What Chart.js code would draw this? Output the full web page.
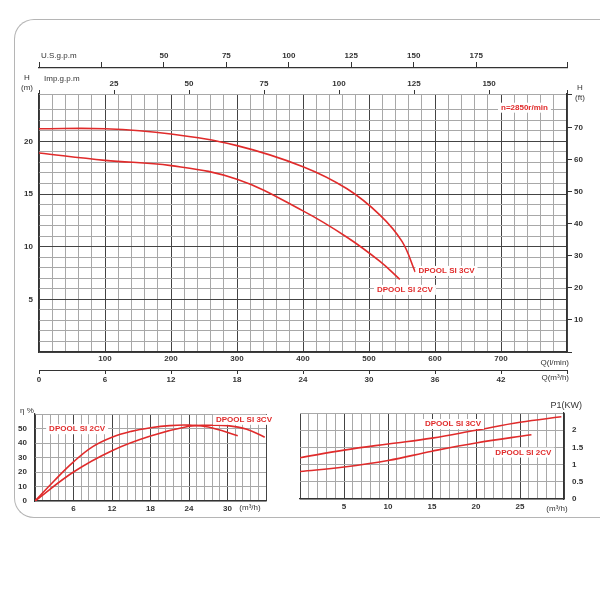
<!DOCTYPE html>
<html>
<head>
<meta charset="utf-8">
<script src="https://cdn.jsdelivr.net/npm/chart.js@4/dist/chart.umd.min.js"></script>
<style>
  body { margin: 0; background: #fff; width: 600px; height: 600px; position: relative; overflow: hidden; }
  canvas { position: absolute; }
  #frame { position: absolute; left: 14px; top: 19px; width: 600px; height: 497px;
           border: 1.5px solid #b5b5b5; border-right: none; border-radius: 20px 0 0 20px; }
</style>
</head>
<body>
<div id="frame"></div>
<canvas id="hqChart" style="left:0;top:0;width:600px;height:395px"></canvas>
<canvas id="effChart" style="left:0;top:395px;width:290px;height:125px"></canvas>
<canvas id="powChart" style="left:290px;top:395px;width:310px;height:125px"></canvas>
<script>
// H-Q 곡선 (Q: m3/h, H: m)
const hq3Q = [0, 6, 12, 18, 24, 28, 31, 33, 34.2];
const hq3H = [21.2, 21.2, 20.7, 19.6, 17.6, 15.5, 13.0, 10.5, 7.6];
const hq2Q = [0, 6, 12, 18, 24, 28, 31, 32.8];
const hq2H = [18.9, 18.2, 17.7, 16.4, 13.4, 10.9, 8.6, 6.9];

// 효율 곡선 (%)
const eff2Q = [0, 3, 6, 9, 12, 15, 18, 21, 24, 27, 31.6];
const eff2E = [0, 14, 27, 37.5, 44, 48, 50.5, 52, 52.3, 51, 45];
const eff3Q = [0, 6, 12, 18, 24, 27, 30, 33, 35.8];
const eff3E = [0, 20, 34.7, 44.8, 51.5, 52.2, 52, 49.5, 44];

// 소비전력 곡선 (kW)
const pow3Q = [0, 5, 10, 15, 20, 25, 29.7];
const pow3P = [1.2, 1.42, 1.6, 1.77, 2.0, 2.23, 2.39];
const pow2Q = [0, 5, 10, 15, 20, 26.3];
const pow2P = [0.80, 0.93, 1.12, 1.39, 1.63, 1.87];

const lpmTicks = [100, 200, 300, 400, 500, 600, 700];
const m3hTicks = [0, 6, 12, 18, 24, 30, 36, 42];
const impTicks = [25, 50, 75, 100, 125, 150, 175];
const usTicks = [50, 75, 100, 125, 150, 175, 200];
const ftTicks = [10, 20, 30, 40, 50, 60, 70];
const mTicks = [5, 10, 15, 20];

const RED = '#e02b2b';
const FONT = { family: 'Liberation Sans, Arial, sans-serif', size: 8, weight: 'bold' };
Chart.defaults.font = FONT;
Chart.defaults.color = '#333';
Chart.defaults.animation = false;

const near = (v, step) => Math.abs(v / step - Math.round(v / step)) < 1e-6;
const pts = (xs, ys, k = 1) => xs.map((x, i) => ({ x: x * k, y: ys[i] }));
const fixW = w => s => { s.width = w; };
const fixH = h => s => { s.height = h; };

function lineSet(data, xAxis) {
    return { data, xAxisID: xAxis || 'x', borderColor: RED, borderWidth: 1.6,
             pointRadius: 0, tension: 0.4, fill: false };
}

// 라벨 플러그인: 데이터 좌표에 붉은 텍스트(흰 배경)
function labelPlugin(labels, texts) {
    return {
        id: 'labels',
        afterDatasetsDraw(chart) {
            const c = chart.ctx;
            c.save();
            c.font = 'bold 8px Liberation Sans, Arial, sans-serif';
            c.textBaseline = 'middle';
            labels.forEach(l => {
                const x = chart.scales[l.xs || 'x'].getPixelForValue(l.x);
                const y = chart.scales.y.getPixelForValue(l.y);
                const w = c.measureText(l.t).width;
                c.fillStyle = '#fff';
                c.fillRect(x - 3, y - 5, w + 6, 10);
                c.fillStyle = RED;
                c.fillText(l.t, x, y);
            });
            c.fillStyle = '#333';
            (texts || []).forEach(t => {
                c.font = (t.size || 8) + 'px Liberation Sans, Arial, sans-serif';
                c.textAlign = t.align || 'left';
                c.fillText(t.t, t.x, t.y);
            });
            c.restore();
        }
    };
}

function gridColor(major) {
    return ctx => (ctx.tick && major(ctx.tick.value)) ? '#444' : '#a8a8a8';
}

// 메인 H-Q 차트
new Chart(document.getElementById('hqChart'), {
    type: 'line',
    data: { datasets: [
        lineSet(pts(hq3Q, hq3H, 1000 / 60)),
        lineSet(pts(hq2Q, hq2H, 1000 / 60))
    ] },
    options: {
        responsive: false, maintainAspectRatio: false,
        layout: { padding: 0 },
        plugins: { legend: { display: false }, tooltip: { enabled: false } },
        scales: {
            x: {
                type: 'linear', position: 'bottom', min: 0, max: 800,
                ticks: { stepSize: 20, autoSkip: false, maxRotation: 0, padding: 2,
                         callback: v => lpmTicks.includes(v) ? v : '' },
                grid: { color: gridColor(v => near(v, 100)), tickLength: 0 },
                border: { color: '#333', width: 1.2 },
                afterFit: fixH(18)
            },
            xm3: {
                type: 'linear', position: 'bottom', min: 0, max: 48,
                ticks: { stepSize: 6, autoSkip: false, maxRotation: 0, padding: 1,
                         callback: v => m3hTicks.includes(v) ? v : '' },
                grid: { drawOnChartArea: false, tickLength: 4, color: '#333' },
                border: { color: '#333' },
                afterFit: fixH(25)
            },
            ximp: {
                type: 'linear', position: 'top', weight: 1, min: 0, max: 48 * 1000 / 60 / 4.546,
                ticks: { stepSize: 25, autoSkip: false, maxRotation: 0, padding: 1,
                         callback: v => impTicks.includes(v) ? v : '' },
                grid: { drawOnChartArea: false, tickLength: 4, color: '#333' },
                border: { display: false },
                afterFit: fixH(26)
            },
            xus: {
                type: 'linear', position: 'top', weight: 2, min: 0, max: 48 * 1000 / 60 / 3.785,
                ticks: { stepSize: 25, autoSkip: false, maxRotation: 0, padding: 1,
                         callback: v => usTicks.includes(v) ? v : '' },
                grid: { drawOnChartArea: false, tickLength: 6, color: '#333' },
                border: { color: '#333', width: 1.2 },
                afterFit: fixH(68)
            },
            y: {
                type: 'linear', position: 'left', min: 0, max: 24.5,
                ticks: { stepSize: 1, autoSkip: false, padding: 6,
                         callback: v => mTicks.includes(v) ? v : '' },
                grid: { color: gridColor(v => near(v, 5)), tickLength: 0 },
                border: { color: '#333', width: 1.2 },
                afterFit: fixW(39)
            },
            yft: {
                type: 'linear', position: 'right', min: 0, max: 24.5 * 3.28084,
                ticks: { stepSize: 10, autoSkip: false, padding: 2,
                         callback: v => ftTicks.includes(v) ? v : '' },
                grid: { drawOnChartArea: false, tickLength: 5, color: '#333' },
                border: { color: '#333', width: 1.2 },
                afterFit: fixW(33)
            }
        }
    },
    plugins: [labelPlugin(
        [{ t: 'DPOOL SI 3CV', x: 575, y: 7.7 },
         { t: 'DPOOL SI 2CV', x: 512, y: 5.9 },
         { t: 'n=2850r/min', x: 700, y: 23.2 }],
        [{ t: 'U.S.g.p.m', x: 41, y: 56 },
         { t: 'Imp.g.p.m', x: 44, y: 79 },
         { t: 'H', x: 27, y: 78, align: 'center' },
         { t: '(m)', x: 27, y: 88, align: 'center' },
         { t: 'H', x: 580, y: 88, align: 'center' },
         { t: '(ft)', x: 580, y: 98, align: 'center' },
         { t: 'Q(l/min)', x: 569, y: 363, align: 'right' },
         { t: 'Q(m³/h)', x: 569, y: 378, align: 'right' }]
    )]
});

// 효율 차트
new Chart(document.getElementById('effChart'), {
    type: 'line',
    data: { datasets: [lineSet(pts(eff2Q, eff2E)), lineSet(pts(eff3Q, eff3E))] },
    options: {
        responsive: false, maintainAspectRatio: false,
        layout: { padding: { left: 0, right: 24, top: 19, bottom: 0 } },
        plugins: { legend: { display: false }, tooltip: { enabled: false } },
        scales: {
            x: {
                type: 'linear', min: 0, max: 36,
                ticks: { stepSize: 1.2, autoSkip: false, maxRotation: 0, padding: 3,
                         callback: v => (near(v, 6) && v > 0 && v < 36) ? Math.round(v) : '' },
                grid: { color: gridColor(v => near(v, 6)), tickLength: 0 },
                border: { color: '#333', width: 1.2 },
                afterFit: fixH(19)
            },
            y: {
                type: 'linear', min: 0, max: 60,
                ticks: { stepSize: 10, autoSkip: false, padding: 8,
                         callback: v => v < 60 ? v : '' },
                grid: { color: '#a8a8a8', tickLength: 0 },
                border: { color: '#333', width: 1.2 },
                afterFit: fixW(35)
            }
        }
    },
    plugins: [labelPlugin(
        [{ t: 'DPOOL SI 2CV', x: 2.2, y: 49.5 },
         { t: 'DPOOL SI 3CV', x: 28.2, y: 56 }],
        [{ t: 'η %', x: 20, y: 16 },
         { t: '(m³/h)', x: 250, y: 113, align: 'center' }]
    )]
});

// 소비전력 차트
new Chart(document.getElementById('powChart'), {
    type: 'line',
    data: { datasets: [lineSet(pts(pow3Q, pow3P)), lineSet(pts(pow2Q, pow2P))] },
    options: {
        responsive: false, maintainAspectRatio: false,
        layout: { padding: { left: 10, right: 0, top: 18, bottom: 0 } },
        plugins: { legend: { display: false }, tooltip: { enabled: false } },
        scales: {
            x: {
                type: 'linear', min: 0, max: 30,
                ticks: { stepSize: 1, autoSkip: false, maxRotation: 0, padding: 3,
                         callback: v => (v % 5 === 0 && v > 0 && v < 30) ? v : '' },
                grid: { color: gridColor(v => v % 5 === 0), tickLength: 0 },
                border: { color: '#333', width: 1.2 },
                afterFit: fixH(21)
            },
            y: {
                type: 'linear', position: 'right', min: 0, max: 2.5,
                ticks: { stepSize: 0.5, autoSkip: false, padding: 8,
                         callback: v => v < 2.5 ? v : '' },
                grid: { color: '#a8a8a8', tickLength: 0 },
                border: { color: '#333', width: 1.2 },
                afterFit: fixW(36)
            }
        }
    },
    plugins: [labelPlugin(
        [{ t: 'DPOOL SI 3CV', x: 14.2, y: 2.18 },
         { t: 'DPOOL SI 2CV', x: 22.2, y: 1.35 }],
        [{ t: 'P1(KW)', x: 292, y: 11, align: 'right', size: 9 },
         { t: '(m³/h)', x: 267, y: 114, align: 'center' }]
    )]
});
</script>
</body>
</html>
